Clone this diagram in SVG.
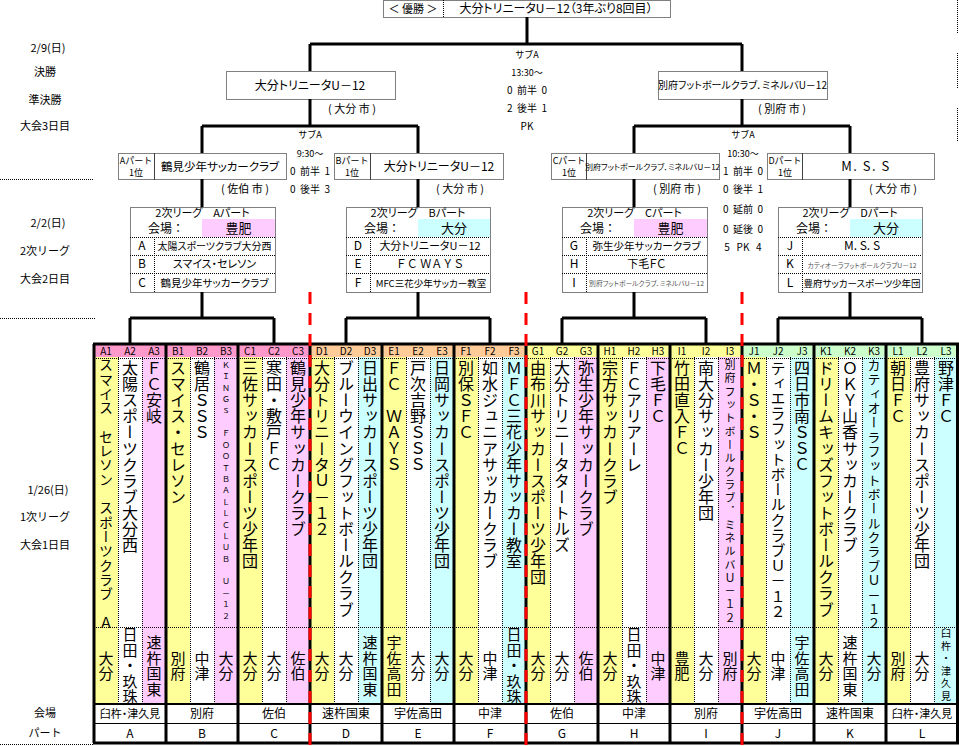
<svg xmlns="http://www.w3.org/2000/svg" width="959" height="746" viewBox="0 0 959 746">
<defs><style>
text{font-family:"Noto Sans CJK JP","Noto Sans",sans-serif;fill:#000}
.m{text-anchor:middle}
.p{font-feature-settings:"palt"}
.v{writing-mode:vertical-rl;text-orientation:upright;font-size:16px;letter-spacing:0.1px}
.vv{writing-mode:vertical-rl;text-orientation:upright;font-size:15px;letter-spacing:0.5px;text-anchor:middle}
.c{stroke:#000;stroke-width:3;fill:none}
.d{stroke:#000;stroke-width:1;stroke-dasharray:1 1;fill:none}
.r{stroke:#f00;stroke-width:3;stroke-dasharray:12 9;fill:none}
.s7{font-size:6.8px}.s8{font-size:8px}.s9{font-size:9px}.s10{font-size:10px}.s11{font-size:11px}.s12{font-size:12px}.s13{font-size:13px}
.g{fill:#555}
</style></defs>
<rect width="959" height="746" fill="#fff"/>

<g id="side-labels" class="s11">
<text class="m" x="48" y="52">2/9(日)</text>
<text class="m" x="45" y="76">決勝</text>
<text class="m" x="45" y="104">準決勝</text>
<text class="m" x="45" y="130">大会3日目</text>
<text class="m" x="48" y="227">2/2(日)</text>
<text class="m" x="45" y="255">2次リーグ</text>
<text class="m" x="45" y="283">大会2日目</text>
<text class="m" x="48" y="494">1/26(日)</text>
<text class="m" x="45" y="521">1次リーグ</text>
<text class="m" x="45" y="549">大会1日目</text>
<text class="m" x="45" y="717">会場</text>
<text class="m" x="45" y="737">パート</text>
<path class="d" d="M0,179.5H94 M0,318.5H95 M0,744.5H93 M957.5,0V33 M957.5,53V88 M957.5,108V142"/>
</g>

<g id="connectors">
<path class="c" d="M527,17V44 M310,44H742 M310,44V71 M742,44V71 M310,99V126 M202,126H418 M202,126V153 M418,126V153 M742,99V126 M634,126H850 M634,126V153 M850,126V153 M202,179V207 M418,179V207 M634,179V207 M850,179V207 M202,292V318 M130,318H274 M130,318V344 M274,318V344 M418,292V318 M346,318H490 M346,318V344 M490,318V344 M634,292V318 M562,318H706 M562,318V344 M706,318V344 M850,292V318 M778,318H922 M778,318V344 M922,318V344"/>
</g>

<g id="champion">
<rect class="d" x="383.5" y="0.5" width="287" height="17"/>
<path class="d" d="M443.5,0V17"/>
<text class="m s11" x="413" y="13">＜ 優勝 ＞</text>
<text class="m s12 p" x="556" y="13">大分トリニータU－12（3年ぶり8回目）</text>
</g>

<g id="final-score" class="s9">
<text class="m" x="527" y="58">サブA</text>
<text class="m" x="527" y="76">13:30～</text>
<text class="m s10" x="527" y="94">0&#160;&#160;前半&#160;&#160;0</text>
<text class="m s10" x="527" y="112">2&#160;&#160;後半&#160;&#160;1</text>
<text class="m s10" x="527" y="130">PK</text>
</g>

<g id="final-left">
<rect class="d" x="226.5" y="71.5" width="169" height="28"/>
<text class="m s12 p" x="310" y="90">大分トリニータU－12</text>
<text class="m s11" x="352" y="113">(&#160;大分&#160;市&#160;)</text>
</g>

<g id="final-right">
<rect class="d" x="658.5" y="71.5" width="169" height="28"/>
<text class="m s10 p" x="742.5" y="89">別府フットボールクラブ．ミネルバU－12</text>
<text class="m s11" x="782" y="113">(&#160;別府&#160;市&#160;)</text>
</g>

<g id="semi-left-score" class="s9">
<text class="m" x="310" y="138">サブA</text>
<text class="m" x="310" y="157">9:30～</text>
<text class="m s10" x="310" y="175">0&#160;&#160;前半&#160;&#160;1</text>
<text class="m s10" x="310" y="193">0&#160;&#160;後半&#160;&#160;3</text>
</g>

<g id="semi-right-score" class="s9">
<text class="m" x="743" y="138">サブA</text>
<text class="m" x="743" y="157">10:30～</text>
<text class="m s10" x="743" y="175">1&#160;&#160;前半&#160;&#160;0</text>
<text class="m s10" x="743" y="193">0&#160;&#160;後半&#160;&#160;1</text>
<text class="m s10" x="743" y="213">0&#160;&#160;延前&#160;&#160;0</text>
<text class="m s10" x="743" y="233">0&#160;&#160;延後&#160;&#160;0</text>
<text class="m s10" x="743" y="251">5&#160;&#160;&#160;PK&#160;&#160;&#160;4</text>
</g>

<g id="semi-A">
<rect class="d" x="118.5" y="153.5" width="36" height="26"/>
<rect class="d" x="154.5" y="153.5" width="132" height="26"/>
<text class="m s9" x="136" y="164">Aパート</text><text class="m s9" x="136" y="176">1位</text>
<text class="m p" x="220" y="171" style="font-size:11.5px">鶴見少年サッカークラブ</text>
<text class="m s11" x="245" y="193">(&#160;佐伯&#160;市&#160;)</text>
</g>
<g id="semi-B">
<rect class="d" x="334.5" y="153.5" width="36" height="26"/>
<rect class="d" x="370.5" y="153.5" width="133" height="26"/>
<text class="m s9" x="352" y="164">Bパート</text><text class="m s9" x="352" y="176">1位</text>
<text class="m s12 p" x="439" y="171">大分トリニータU－12</text>
<text class="m s11" x="460" y="193">(&#160;大分&#160;市&#160;)</text>
</g>
<g id="semi-C">
<rect class="d" x="551.5" y="153.5" width="35" height="26"/>
<rect class="d" x="586.5" y="153.5" width="133" height="26"/>
<text class="m s9" x="569" y="164">Cパート</text><text class="m s9" x="569" y="176">1位</text>
<text class="m s8 p" x="652.5" y="170">別府フットボールクラブ．ミネルバU－12</text>
<text class="m s11" x="677" y="193">(&#160;別府&#160;市&#160;)</text>
</g>
<g id="semi-D">
<rect class="d" x="767.5" y="153.5" width="35" height="26"/>
<rect class="d" x="802.5" y="153.5" width="132" height="26"/>
<text class="m s9" x="785" y="164">Dパート</text><text class="m s9" x="785" y="176">1位</text>
<text class="m s13" x="866" y="171" style="letter-spacing:1.5px">M. S. S</text>
<text class="m s11" x="893" y="193">(&#160;大分&#160;市&#160;)</text>
</g>

<g id="league2-A">
<rect x="202" y="219" width="73" height="18" fill="#ffccff"/>
<rect class="d" x="130.5" y="207.5" width="145" height="85"/>
<path class="d" d="M130,237.5H275 M130,255.5H275 M130,273.5H275 M154.5,237V292"/>
<text class="m s11 p" x="202.5" y="217">2次リーグ　Aパート</text>
<text class="m s12" x="166" y="233">会場：</text>
<text class="m s13" x="238.5" y="233">豊肥</text>
<text class="m s12" x="142" y="250">A</text><text class="m s12" x="142" y="268">B</text><text class="m s12" x="142" y="287">C</text>
<text class="m s10 p" x="214.5" y="250">太陽スポーツクラブ大分西</text>
<text class="m s11 p" x="214.5" y="268">スマイス・セレソン</text>
<text class="m p" x="214.5" y="287" style="font-size:10.5px">鶴見少年サッカークラブ</text>
</g>
<g id="league2-B">
<rect x="418" y="219" width="72" height="18" fill="#ccffff"/>
<rect class="d" x="346.5" y="207.5" width="144" height="85"/>
<path class="d" d="M346,237.5H490 M346,255.5H490 M346,273.5H490 M370.5,237V292"/>
<text class="m s11 p" x="418" y="217">2次リーグ　Bパート</text>
<text class="m s12" x="382" y="233">会場：</text>
<text class="m s13" x="454" y="233">大分</text>
<text class="m s12" x="358" y="250">D</text><text class="m s12" x="358" y="268">E</text><text class="m s12" x="358" y="287">F</text>
<text class="m s11 p" x="430" y="250">大分トリニータU－12</text>
<text class="m s11" x="430" y="268">ＦＣ ＷＡＹＳ</text>
<text class="m p" x="431" y="287" style="font-size:9.5px">MFC三花少年サッカー教室</text>
</g>
<g id="league2-C">
<rect x="634" y="219" width="73" height="18" fill="#ffccff"/>
<rect class="d" x="562.5" y="207.5" width="145" height="85"/>
<path class="d" d="M562,237.5H707 M562,255.5H707 M562,273.5H707 M586.5,237V292"/>
<text class="m s11 p" x="634.5" y="217">2次リーグ　Cパート</text>
<text class="m s12" x="598" y="233">会場：</text>
<text class="m s13" x="670.5" y="233">豊肥</text>
<text class="m s12" x="574" y="250">G</text><text class="m s12" x="574" y="268">H</text><text class="m s12" x="574" y="287">I</text>
<text class="m p" x="646.5" y="250" style="font-size:10.5px">弥生少年サッカークラブ</text>
<text class="m s11 p" x="646.5" y="268">下毛ＦＣ</text>
<text class="m s7 g p" x="646.5" y="286">別府フットボールクラブ．ミネルバU－12</text>
</g>
<g id="league2-D">
<rect x="850" y="219" width="72" height="18" fill="#ccffff"/>
<rect class="d" x="778.5" y="207.5" width="144" height="85"/>
<path class="d" d="M778,237.5H922 M778,255.5H922 M778,273.5H922 M802.5,237V292"/>
<text class="m s11 p" x="850" y="217">2次リーグ　Dパート</text>
<text class="m s12" x="814" y="233">会場：</text>
<text class="m s13" x="886" y="233">大分</text>
<text class="m s12" x="790" y="250">J</text><text class="m s12" x="790" y="268">K</text><text class="m s12" x="790" y="287">L</text>
<text class="m s12" x="862" y="250">M. S. S</text>
<text class="m s7 g p" x="862" y="268">カティオーラフットボールクラブU－12</text>
<text class="m p" x="862" y="287" style="font-size:9.5px">豊府サッカースポーツ少年団</text>
</g>

<g id="league1-table">
<g id="fills">
<rect x="94" y="344" width="216" height="13" fill="#ff99cc"/>
<rect x="310" y="344" width="216" height="13" fill="#ffcc99"/>
<rect x="526" y="344" width="216" height="13" fill="#ffff99"/>
<rect x="742" y="344" width="216" height="13" fill="#ccffcc"/>
<g fill="#ffff99">
<rect x="94" y="357" width="24" height="347"/><rect x="166" y="357" width="24" height="347"/><rect x="238" y="357" width="24" height="347"/>
<rect x="310" y="357" width="24" height="347"/><rect x="382" y="357" width="24" height="347"/><rect x="454" y="357" width="24" height="347"/>
<rect x="526" y="357" width="24" height="347"/><rect x="598" y="357" width="24" height="347"/><rect x="670" y="357" width="24" height="347"/>
<rect x="742" y="357" width="24" height="347"/><rect x="814" y="357" width="24" height="347"/><rect x="886" y="357" width="24" height="347"/>
</g>
<g fill="#ffccff">
<rect x="142" y="357" width="24" height="347"/><rect x="214" y="357" width="24" height="347"/><rect x="286" y="357" width="24" height="347"/>
<rect x="574" y="357" width="24" height="347"/><rect x="646" y="357" width="24" height="347"/><rect x="718" y="357" width="24" height="347"/>
</g>
<g fill="#ccffff">
<rect x="358" y="357" width="24" height="347"/><rect x="430" y="357" width="24" height="347"/><rect x="502" y="357" width="24" height="347"/>
<rect x="790" y="357" width="24" height="347"/><rect x="862" y="357" width="24" height="347"/><rect x="934" y="357" width="24" height="347"/>
</g>
</g>
<path class="d" d="M94,358.5H958 M94,627.5H958 M118.5,357V704 M142.5,357V704 M190.5,357V704 M214.5,357V704 M262.5,357V704 M286.5,357V704 M334.5,357V704 M358.5,357V704 M406.5,357V704 M430.5,357V704 M478.5,357V704 M502.5,357V704 M550.5,357V704 M574.5,357V704 M622.5,357V704 M646.5,357V704 M694.5,357V704 M718.5,357V704 M766.5,357V704 M790.5,357V704 M838.5,357V704 M862.5,357V704 M910.5,357V704 M934.5,357V704"/>
<path stroke="#000" stroke-width="1" d="M93,723.5H959"/>
<path stroke="#000" stroke-width="2" d="M93,704H959"/>
<path class="c" d="M93,344H959 M93,743H959 M94,344V743 M166,344V743 M238,344V743 M310,344V743 M382,344V743 M454,344V743 M526,344V743 M598,344V743 M670,344V743 M742,344V743 M814,344V743 M886,344V743 M957.5,344V743"/>

<g id="headers" class="m s10">
<text x="106" y="355">A1</text><text x="130" y="355">A2</text><text x="154" y="355">A3</text>
<text x="178" y="355">B1</text><text x="202" y="355">B2</text><text x="226" y="355">B3</text>
<text x="250" y="355">C1</text><text x="274" y="355">C2</text><text x="298" y="355">C3</text>
<text x="322" y="355">D1</text><text x="346" y="355">D2</text><text x="370" y="355">D3</text>
<text x="394" y="355">E1</text><text x="418" y="355">E2</text><text x="442" y="355">E3</text>
<text x="466" y="355">F1</text><text x="490" y="355">F2</text><text x="514" y="355">F3</text>
<text x="538" y="355">G1</text><text x="562" y="355">G2</text><text x="586" y="355">G3</text>
<text x="610" y="355">H1</text><text x="634" y="355">H2</text><text x="658" y="355">H3</text>
<text x="682" y="355">I1</text><text x="706" y="355">I2</text><text x="730" y="355">I3</text>
<text x="754" y="355">J1</text><text x="778" y="355">J2</text><text x="802" y="355">J3</text>
<text x="826" y="355">K1</text><text x="850" y="355">K2</text><text x="874" y="355">K3</text>
<text x="898" y="355">L1</text><text x="922" y="355">L2</text><text x="946" y="355">L3</text>
</g>

<g id="teams">
<text class="v" x="106" y="358" style="font-size:14px;letter-spacing:0.3px">スマイス　セレソン　スポーツクラブ　Ａ</text>
<text class="v" x="130" y="360">太陽スポーツクラブ大分西</text>
<text class="v" x="154" y="360">ＦＣ安岐</text>
<text class="v" x="178" y="360">スマイス・セレソン</text>
<text class="v" x="202" y="360">鶴居ＳＳＳ</text>
<text class="v" x="226" y="361" style="font-size:8px;letter-spacing:3.4px">ＫＩＮＧｓ　ＦＯＯＴＢＡＬＬＣＬＵＢ　Ｕ－１２</text>
<text class="v" x="250" y="360">三佐サッカースポーツ少年団</text>
<text class="v" x="274" y="360">寒田・敷戸ＦＣ</text>
<text class="v" x="298" y="360">鶴見少年サッカークラブ</text>
<text class="v" x="322" y="360">大分トリニータＵ－１２</text>
<text class="v" x="346" y="360">ブルーウイングフットボールクラブ</text>
<text class="v" x="370" y="360">日出サッカースポーツ少年団</text>
<text class="v" x="394" y="360">ＦＣ　ＷＡＹＳ</text>
<text class="v" x="418" y="360">戸次吉野ＳＳＳ</text>
<text class="v" x="442" y="360">日岡サッカースポーツ少年団</text>
<text class="v" x="466" y="360">別保ＳＦＣ</text>
<text class="v" x="490" y="360">如水ジュニアサッカークラブ</text>
<text class="v" x="514" y="360">ＭＦＣ三花少年サッカー教室</text>
<text class="v" x="538" y="360">由布川サッカースポーツ少年団</text>
<text class="v" x="562" y="360">大分トリニータタートルズ</text>
<text class="v" x="586" y="360">弥生少年サッカークラブ</text>
<text class="v" x="610" y="360">宗方サッカークラブ</text>
<text class="v" x="634" y="360">ＦＣアリアーレ</text>
<text class="v" x="658" y="360">下毛ＦＣ</text>
<text class="v" x="682" y="360">竹田直入ＦＣ</text>
<text class="v" x="706" y="360">南大分サッカー少年団</text>
<text class="v" x="730" y="359.5" style="font-size:11px;letter-spacing:2.3px">別府フットボールクラブ．ミネルバＵ－１２</text>
<text class="v" x="754" y="360">Ｍ・Ｓ・Ｓ</text>
<text class="v" x="778" y="360.5" style="font-size:15px;letter-spacing:0.2px">ティエラフットボールクラブＵ－１２</text>
<text class="v" x="802" y="360">四日市南ＳＳＣ</text>
<text class="v" x="826" y="360">ドリームキッズフットボールクラブ</text>
<text class="v" x="850" y="360">ＯＫＹ山香サッカークラブ</text>
<text class="v" x="874" y="358.5" style="font-size:13px;letter-spacing:1.35px">カティオーラフットボールクラブＵ－１２</text>
<text class="v" x="898" y="360">朝日ＦＣ</text>
<text class="v" x="922" y="360">豊府サッカースポーツ少年団</text>
<text class="v" x="946" y="360">野津ＦＣ</text>
</g>

<g id="team-areas">
<text class="vv" x="106" y="666">大分</text><text class="vv" x="130" y="666">日田・玖珠</text><text class="vv" x="154" y="666">速杵国東</text>
<text class="vv" x="178" y="666">別府</text><text class="vv" x="202" y="666">中津</text><text class="vv" x="226" y="666">大分</text>
<text class="vv" x="250" y="666">大分</text><text class="vv" x="274" y="666">大分</text><text class="vv" x="298" y="666">佐伯</text>
<text class="vv" x="322" y="666">大分</text><text class="vv" x="346" y="666">大分</text><text class="vv" x="370" y="666">速杵国東</text>
<text class="vv" x="394" y="666">宇佐高田</text><text class="vv" x="418" y="666">大分</text><text class="vv" x="442" y="666">大分</text>
<text class="vv" x="466" y="666">大分</text><text class="vv" x="490" y="666">中津</text><text class="vv" x="514" y="666">日田・玖珠</text>
<text class="vv" x="538" y="666">大分</text><text class="vv" x="562" y="666">大分</text><text class="vv" x="586" y="666">佐伯</text>
<text class="vv" x="610" y="666">大分</text><text class="vv" x="634" y="666">日田・玖珠</text><text class="vv" x="658" y="666">中津</text>
<text class="vv" x="682" y="666">豊肥</text><text class="vv" x="706" y="666">大分</text><text class="vv" x="730" y="666">別府</text>
<text class="vv" x="754" y="666">大分</text><text class="vv" x="778" y="666">中津</text><text class="vv" x="802" y="666">宇佐高田</text>
<text class="vv" x="826" y="666">大分</text><text class="vv" x="850" y="666">速杵国東</text><text class="vv" x="874" y="666">大分</text>
<text class="vv" x="898" y="666">別府</text><text class="vv" x="922" y="666">大分</text>
<text class="vv" x="946" y="666" style="font-size:10px;letter-spacing:2.5px">臼杵・津久見</text>
</g>

<g id="venues" class="m s12">
<text class="p" x="130" y="718" style="font-size:11px">臼杵・津久見</text>
<text x="202" y="718">別府</text><text x="274" y="718">佐伯</text><text x="346" y="718">速杵国東</text>
<text x="418" y="718">宇佐高田</text><text x="490" y="718">中津</text><text x="562" y="718">佐伯</text>
<text x="634" y="718">中津</text><text x="706" y="718">別府</text><text x="778" y="718">宇佐高田</text>
<text x="850" y="718">速杵国東</text>
<text class="p" x="922" y="718" style="font-size:11px">臼杵・津久見</text>
</g>
<g id="parts" class="m s12">
<text x="130" y="738">A</text><text x="202" y="738">B</text><text x="274" y="738">C</text><text x="346" y="738">D</text>
<text x="418" y="738">E</text><text x="490" y="738">F</text><text x="562" y="738">G</text><text x="634" y="738">H</text>
<text x="706" y="738">I</text><text x="778" y="738">J</text><text x="850" y="738">K</text><text x="922" y="738">L</text>
</g>
</g>

<g id="dividers">
<path class="r" d="M310,292V746 M526,292V746 M742,292V746"/>
</g>
</svg>
